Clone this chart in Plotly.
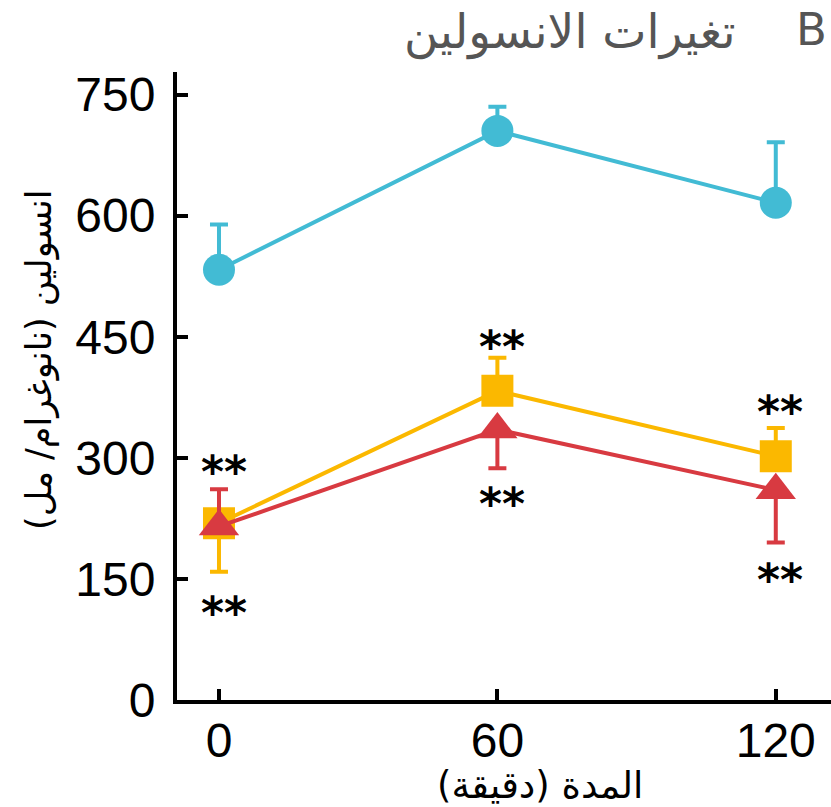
import plotly.graph_objects as go

# Sampling times (minutes) and axis ticks
minutes = [0, 60, 120]
x_ticks = [0, 60, 120]
y_ticks = [0, 150, 300, 450, 600, 750]

# Insulin (ng/ml): means with one-sided error bars
cyan_mean = [533, 705, 616]
cyan_err_up = [56, 30, 75]
cyan_err_down = [0, 0, 0]

yellow_mean = [219, 383, 302]
yellow_err_up = [0, 41, 35]
yellow_err_down = [60, 0, 0]

red_mean = [215, 335, 260]
red_err_up = [46, 0, 0]
red_err_down = [0, 48, 65]

# Significance markers: (minute, insulin level where "**" sits)
sig_minutes = [0, 0, 60, 60, 120, 120]
sig_levels = [294, 120, 449, 255, 368, 161]

CYAN = "#42BBD4"
YELLOW = "#FBB800"
RED = "#D83A41"

W, H = 831, 807
ML, MR, MT, MB = 177, 0, 72, 107
PW, PH = W - ML - MR, H - MT - MB


def px_to_paper(px, py):
    return (px - ML) / PW, (H - MB - py) / PH


def series(mean, up, down, color, symbol, size):
    return go.Scatter(
        x=minutes, y=mean, mode="lines+markers",
        line=dict(color=color, width=4),
        marker=dict(color=color, symbol=symbol, size=size, line=dict(width=0)),
        error_y=dict(type="data", symmetric=False, array=up, arrayminus=down,
                     color=color, thickness=4, width=9),
        showlegend=False, cliponaxis=False,
    )


fig = go.Figure()
fig.add_trace(series(cyan_mean, cyan_err_up, cyan_err_down, CYAN, "circle", 32))
fig.add_trace(series(yellow_mean, yellow_err_up, yellow_err_down, YELLOW, "square", 32))
fig.add_trace(series(red_mean, red_err_up, red_err_down, RED, "triangle-up", 35))

annotations = []
for mx, lv in zip(sig_minutes, sig_levels):
    annotations.append(dict(
        x=mx + 1, y=lv, xref="x", yref="y", text="<b>**</b>", showarrow=False,
        font=dict(family="DejaVu Sans", size=44, color="black"),
        xanchor="center", yanchor="middle", yshift=-9,
    ))

tx, ty = px_to_paper(829, 30)
annotations.append(dict(x=tx, y=ty, xref="paper", yref="paper", text="B",
                        showarrow=False, xanchor="right", yanchor="middle",
                        font=dict(family="DejaVu Sans", size=45, color="#555555")))
tx, ty = px_to_paper(738, 32)
annotations.append(dict(x=tx, y=ty, xref="paper", yref="paper",
                        text="تغيرات الانسولين", showarrow=False,
                        xanchor="right", yanchor="middle",
                        font=dict(family="DejaVu Sans", size=47, color="#555555")))

tx, ty = px_to_paper(39, 360)
annotations.append(dict(x=tx, y=ty, xref="paper", yref="paper",
                        text="انسولين (نانوغرام/ مل)\u200f", showarrow=False,
                        textangle=-90, xanchor="center", yanchor="middle",
                        font=dict(family="DejaVu Sans", size=35, color="black")))
tx, ty = px_to_paper(540, 785)
annotations.append(dict(x=tx, y=ty, xref="paper", yref="paper",
                        text="المدة (دقيقة)\u200f", showarrow=False,
                        xanchor="center", yanchor="middle",
                        font=dict(family="DejaVu Sans", size=37, color="black")))

axis_common = dict(
    showline=True, linecolor="black", linewidth=4, mirror=False,
    ticks="inside", ticklen=11, tickwidth=4, tickcolor="black",
    showgrid=False, zeroline=False,
    tickfont=dict(family="Liberation Sans, Arial", size=48, color="black"),
)

fig.update_layout(
    width=W, height=H,
    margin=dict(l=ML, r=MR, t=MT, b=MB, pad=0),
    paper_bgcolor="white", plot_bgcolor="white",
    xaxis=dict(range=[-9.05, 131.9], tickvals=x_ticks, ticklabelstandoff=-5,
               **axis_common),
    yaxis=dict(range=[0, 778], tickvals=y_ticks, ticklabelstandoff=8,
               **axis_common),
    annotations=annotations,
)

fig.write_html("out.html")
